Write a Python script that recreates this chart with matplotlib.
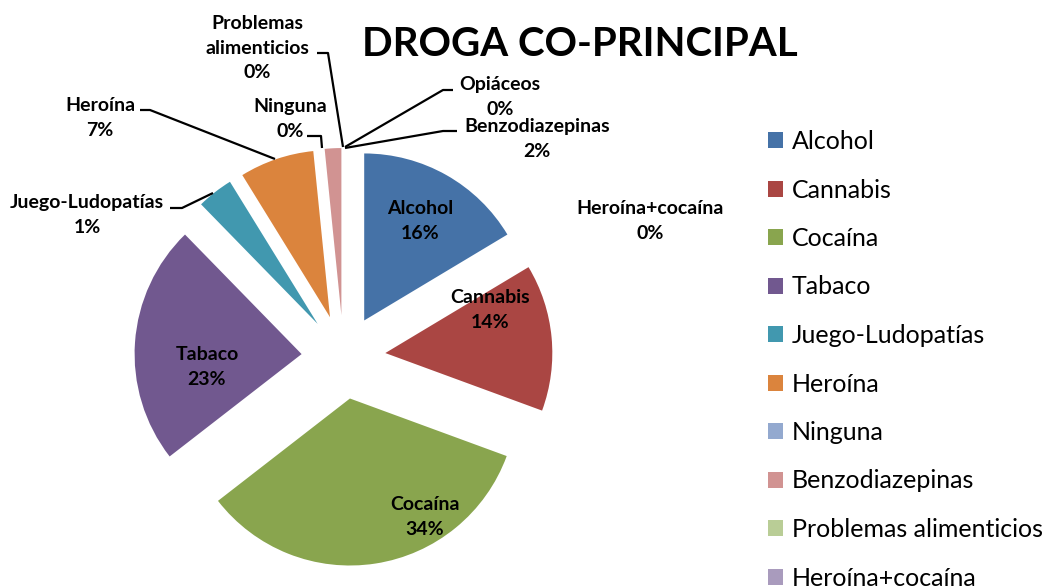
import numpy as np
import matplotlib
matplotlib.use("Agg")
import matplotlib.pyplot as plt
from matplotlib.patches import Patch

plt.rcParams['font.family'] = ['Lato', 'DejaVu Sans']

# Data (share of each slice)
categories = ["Alcohol", "Cannabis", "Cocaína", "Tabaco", "Juego-Ludopatías", "Heroína",
              "Ninguna", "Benzodiazepinas", "Problemas alimenticios", "Heroína+cocaína", "Opiáceos"]
shares = [16.4, 14.2, 33.9, 23.2, 3.5, 7.2, 0.0, 1.6, 0.0, 0.0, 0.0]
pct_labels = ["16%", "14%", "34%", "23%", "1%", "7%", "0%", "2%", "0%", "0%", "0%"]
colors = ["#4572A7", "#AA4643", "#89A54E", "#71588F", "#4198AF", "#DB843D",
          "#93A9CF", "#D19392", "#B9CD96", "#A99BBD", "#91C3D5"]

W, H = 1045, 587

def px(x, y):
    # pixel coords (origin top-left) -> axes data coords
    return (x, H - y)

# label text layout (pixel centres) and leader lines
label_names = ["Alcohol", "Cannabis", "Cocaína", "Tabaco", "Juego-Ludopatías", "Heroína",
               "Ninguna", "Benzodiazepinas", "Problemas\nalimenticios", "Heroína+cocaína", "Opiáceos"]
label_pos = [(420, 221), (490, 310), (425, 517), (207, 367), (87, 215), (100, 118),
             (290, 119), (537, 139), (257, 48), (650, 221), (500, 97)]
leaders = {
    4: [(170, 208), (182, 208), (213, 193)],
    5: [(140, 110), (150, 110), (275, 159)],
    6: [(307, 136), (321, 136), (322, 148)],
    7: [(457, 131), (443, 131), (345, 148)],
    8: [(317, 53), (328, 53), (343, 147)],
    10: [(453, 90), (443, 90), (345, 147)],
}

fig = plt.figure(figsize=(W / 100, H / 100), dpi=100)
ax = fig.add_axes([0, 0, 1, 1])

radius = 167
ax.pie(shares, colors=colors, startangle=90, counterclock=False,
       explode=[42] * len(shares), radius=radius, center=px(343.5, 357),
       wedgeprops=dict(linewidth=0))
ax.set_xlim(0, W)
ax.set_ylim(0, H)
ax.set_aspect('auto')
ax.axis('off')

for i, (name, pct) in enumerate(zip(label_names, pct_labels)):
    ax.text(*px(*label_pos[i]), name + "\n" + pct, ha='center', va='center',
            fontsize=14, fontweight='bold', linespacing=1.55, color='black')
for pts in leaders.values():
    xs = [p[0] for p in pts]
    ys = [H - p[1] for p in pts]
    ax.plot(xs, ys, color='black', lw=1.6, solid_capstyle='butt')

ax.text(*px(580, 44), "DROGA CO-PRINCIPAL", ha='center', va='center',
        fontsize=29, fontweight='bold')

handles = [Patch(facecolor=c, edgecolor='none') for c in colors]
ax.legend(handles, categories, loc='upper left', bbox_to_anchor=px(768, 130),
          bbox_transform=ax.transData, frameon=False, fontsize=18,
          handlelength=0.6, handleheight=0.6, handletextpad=0.35,
          labelspacing=1.02, borderpad=0, borderaxespad=0)

fig.savefig("out.png", dpi=100)
